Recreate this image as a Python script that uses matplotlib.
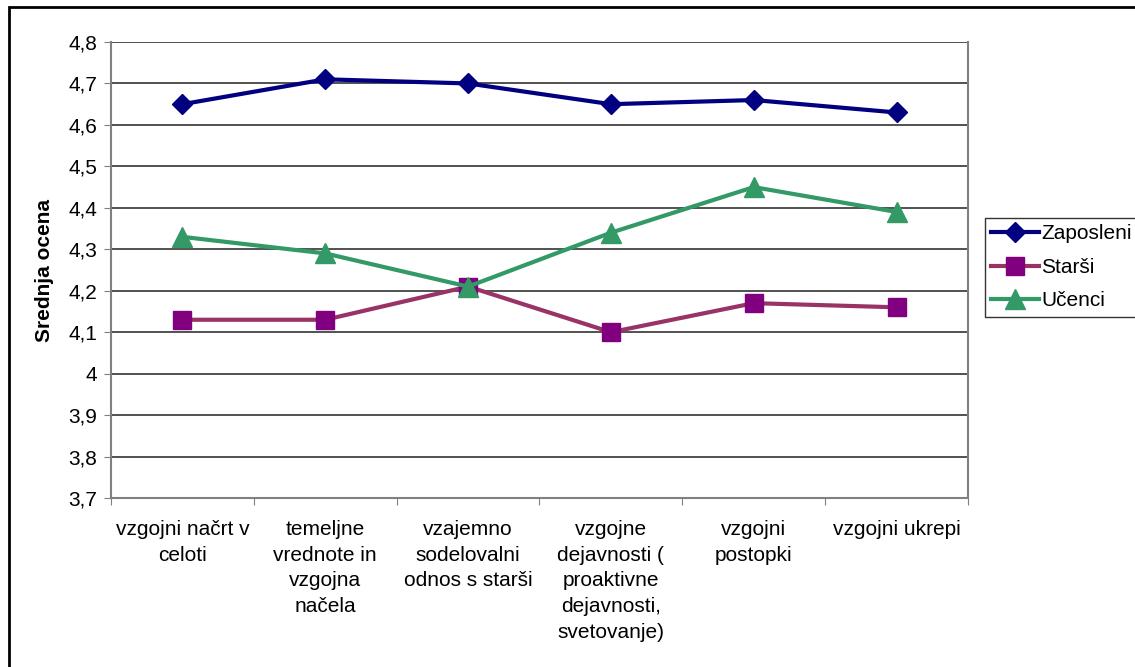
import matplotlib.pyplot as plt
from matplotlib.patches import Rectangle

plt.rcParams['font.family'] = ['Liberation Sans', 'DejaVu Sans']

categories = ['vzgojni načrt v\nceloti', 'temeljne\nvrednote in\nvzgojna\nnačela',
              'vzajemno\nsodelovalni\nodnos s starši',
              'vzgojne\ndejavnosti (\nproaktivne\ndejavnosti,\nsvetovanje)',
              'vzgojni\npostopki', 'vzgojni ukrepi']
zaposleni = [4.65, 4.71, 4.70, 4.65, 4.66, 4.63]
starsi = [4.13, 4.13, 4.21, 4.10, 4.17, 4.16]
ucenci = [4.33, 4.29, 4.21, 4.34, 4.45, 4.39]
yticks = [3.7, 3.8, 3.9, 4.0, 4.1, 4.2, 4.3, 4.4, 4.5, 4.6, 4.7, 4.8]
ylabels = ['3,7', '3,8', '3,9', '4', '4,1', '4,2', '4,3', '4,4', '4,5', '4,6', '4,7', '4,8']

W, H = 1135, 667
fig = plt.figure(figsize=(W / 100, H / 100), dpi=100)
ax = fig.add_axes([111 / W, 1 - 498 / H, (968 - 111) / W, (498 - 42) / H])

# outer chart frame
fig.patches.append(Rectangle((9 / W, -0.01), 1.02, 1 - 7 / H + 0.01, transform=fig.transFigure,
                             fill=False, edgecolor='black', linewidth=2))

x = list(range(len(categories)))
ax.plot(x, zaposleni, color='#000080', linewidth=3, marker='D', markersize=10,
        markerfacecolor='#000080', markeredgecolor='#000080', label='Zaposleni', zorder=5)
ax.plot(x, starsi, color='#993366', linewidth=3, marker='s', markersize=13.5,
        markerfacecolor='#800080', markeredgecolor='#800080', label='Starši', zorder=4)
ax.plot(x, ucenci, color='#339966', linewidth=3, marker='^', markersize=14.5,
        markerfacecolor='#339966', markeredgecolor='#339966', label='Učenci', zorder=6)

ax.set_xlim(-0.5, len(categories) - 0.5)
ax.set_ylim(3.7, 4.8)
ax.set_yticks(yticks)
ax.set_yticklabels(ylabels, fontsize=15)
ax.yaxis.grid(True, color='#222222', linewidth=1.1)
ax.set_axisbelow(True)

ax.set_xticks([i - 0.5 for i in range(len(categories) + 1)])
ax.set_xticklabels([])
ax.set_xticks(x, minor=True)
ax.set_xticklabels(categories, minor=True, fontsize=15, linespacing=1.44, va='top')
ax.tick_params(axis='x', which='minor', length=0, pad=16)
ax.tick_params(axis='x', which='major', length=5, color='#808080')
ax.tick_params(axis='y', length=5, color='#808080', pad=5)

for side in ['left', 'right', 'bottom']:
    ax.spines[side].set_color('#808080')
    ax.spines[side].set_linewidth(1.5)
ax.spines['top'].set_visible(False)

ax.set_ylabel('Srednja ocena', fontsize=15, fontweight='bold', labelpad=10)

leg = ax.legend(loc='upper left', bbox_to_anchor=(985 / W, 1 - 218 / H), bbox_transform=fig.transFigure,
                fontsize=15, frameon=True, fancybox=False, edgecolor='black', handlelength=2.3,
                handletextpad=0.1, borderpad=0.3, labelspacing=0.7, borderaxespad=0)
leg.get_frame().set_linewidth(1)

fig.savefig('out.png', dpi=100)
